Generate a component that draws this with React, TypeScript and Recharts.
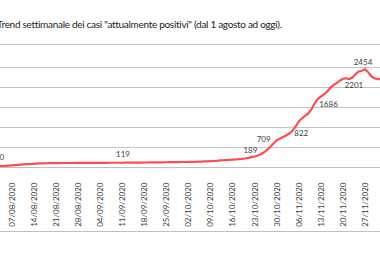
import React from 'react';
import { LineChart, Line, XAxis, YAxis, ReferenceLine, LabelList } from 'recharts';

// daily values of "attualmente positivi", day 0 = 01/08/2020
const POSITIVI = [
  25, 28, 32, 36, 40, 46, 52, 58, 64, 70,
  76, 82, 88, 93, 98, 101, 104, 106, 108, 109,
  110, 111, 112, 112, 113, 113, 114, 114, 115, 115,
  116, 116, 117, 117, 118, 118, 118, 119, 119, 119,
  119, 119, 120, 121, 122, 122, 123, 124, 125, 125,
  126, 127, 128, 129, 130, 131, 132, 133, 134, 135,
  137, 138, 140, 141, 143, 145, 148, 151, 155, 158,
  162, 168, 176, 181, 186, 190, 195, 200, 207, 215,
  225, 240, 258, 275, 300, 330, 380, 440, 520, 600,
  680, 720, 760, 800, 850, 920, 1020, 1150, 1230, 1290,
  1350, 1450, 1600, 1710, 1770, 1830, 1900, 1990, 2060, 2110,
  2170, 2220, 2230, 2210, 2250, 2330, 2400, 2420, 2454, 2380,
  2280, 2230, 2210, 2210, 2220,
];

const TICK_DAYS = [6, 13, 20, 27, 34, 41, 48, 55, 62, 69, 76, 83, 90, 97, 104, 111, 118];
const TICK_LABELS = [
  '07/08/2020', '14/08/2020', '21/08/2020', '28/08/2020', '04/09/2020', '11/09/2020',
  '18/09/2020', '25/09/2020', '02/10/2020', '09/10/2020', '16/10/2020', '23/10/2020',
  '30/10/2020', '06/11/2020', '13/11/2020', '20/11/2020', '27/11/2020',
];

const LABEL_DAYS = [0, 41, 82, 90, 94, 102, 111, 118];
const LABEL_TEXTS = ['40', '119', '189', '709', '822', '1686', '2201', '2454'];

const Y_TICKS = [500, 1000, 1500, 2000, 2500];

const data = POSITIVI.map((v, i) => ({ day: i, v }));

// label placement (dx, dy from the point), style only
const PLACE: Record<number, [number, number]> = {
  0: [7, -9],
  41: [1, -8],
  82: [-1, -6],
  90: [-13, 0],
  94: [12, 0],
  102: [14, 1],
  111: [11, 7],
  118: [-2, -6],
};

const FONT = 'Lato, "Open Sans", sans-serif';

const DateTick = (props: any) => {
  const { x, y, payload } = props;
  const idx = TICK_DAYS.indexOf(payload.value);
  return (
    <text
      x={0}
      y={0}
      transform={`translate(${x + 3},${y + 7}) rotate(-90)`}
      textAnchor="end"
      fontSize={8}
      fontFamily={FONT}
      fill="#404040"
    >
      {TICK_LABELS[idx]}
    </text>
  );
};

const PointLabel = (props: any) => {
  const { x, y, index } = props;
  const k = LABEL_DAYS.indexOf(index);
  if (k < 0) return null;
  const [dx, dy] = PLACE[index] || [0, -8];
  return (
    <text
      x={x + dx}
      y={y + dy}
      textAnchor="middle"
      dominantBaseline="middle"
      fontSize={8}
      fontFamily={FONT}
      fill="#404040"
    >
      {LABEL_TEXTS[k]}
    </text>
  );
};

export default function App() {
  return (
    <div
      style={{
        position: 'absolute',
        left: 0,
        top: 0,
        width: 380,
        height: 255,
        overflow: 'hidden',
        background: '#fff',
      }}
    >
      <div
        style={{
          position: 'absolute',
          left: -3,
          top: 18,
          whiteSpace: 'nowrap',
          fontFamily: FONT,
          fontSize: 10,
          letterSpacing: -0.3,
          color: '#222',
        }}
      >
        Trend settimanale dei casi "attualmente positivi" (dal 1 agosto ad oggi).
      </div>
      <div
        style={{
          position: 'absolute',
          left: -10,
          top: 44,
          width: 420,
          height: 186,
          border: '1px solid #bfbfbf',
        }}
      />
      <div style={{ position: 'absolute', left: -40, top: 0 }}>
        <LineChart
          width={480}
          height={240}
          data={data}
          margin={{ top: 47.5, left: 32.6, right: 37.1, bottom: 12.5 }}
        >
          <XAxis
            dataKey="day"
            type="number"
            domain={[0, 130]}
            ticks={TICK_DAYS}
            tick={<DateTick />}
            tickLine={false}
            axisLine={{ stroke: '#bfbfbf' }}
            height={60}
            interval={0}
          />
          <YAxis
            width={0}
            domain={[0, 3000]}
            tick={false}
            tickLine={false}
            axisLine={false}
          />
          {Y_TICKS.map((t) => (
            <ReferenceLine key={t} y={t} stroke="#c4c4c4" strokeWidth={1} />
          ))}
          <Line
            type="linear"
            dataKey="v"
            stroke="#ff4d4d"
            strokeWidth={2.2}
            dot={false}
            isAnimationActive={false}
          >
            <LabelList dataKey="v" content={<PointLabel />} />
          </Line>
        </LineChart>
      </div>
    </div>
  );
}
